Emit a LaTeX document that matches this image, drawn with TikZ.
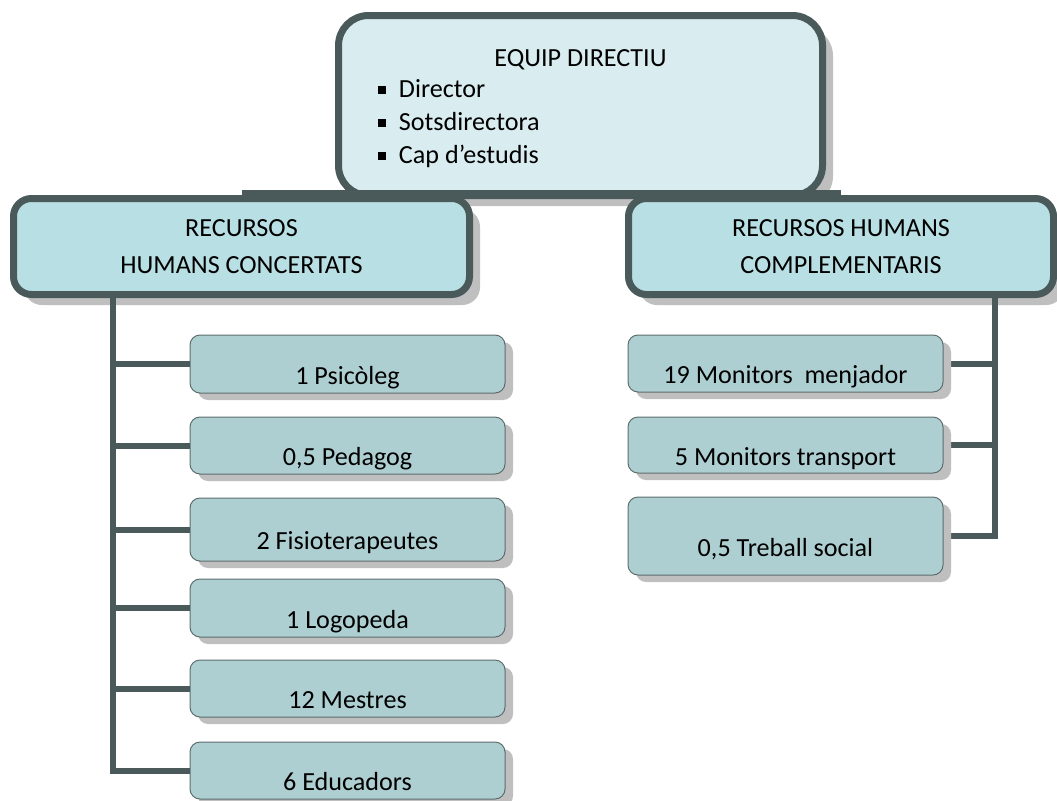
\documentclass[tikz,border=0pt]{standalone}
\usepackage{fontspec}
\setmainfont{Carlito}
\usetikzlibrary{shadows,backgrounds}
\definecolor{darkb}{HTML}{4A5A5A}
\definecolor{topfill}{HTML}{D9EDF0}
\definecolor{midfill}{HTML}{B8DFE3}
\definecolor{childfill}{HTML}{AECFD2}
\definecolor{childline}{HTML}{5E6E6E}
\definecolor{shadowg}{HTML}{BFBFBF}
\newcommand{\mybul}{\raisebox{3pt}{\rule{6pt}{6pt}}\hspace{9.75pt}}
\tikzset{
  txt/.style={font=\fontsize{19.6}{27.75}\selectfont},
  bigshadow/.style={drop shadow={shadow xshift=7.9pt, shadow yshift=-7.9pt, fill=shadowg, opacity=1}},
  smallshadow/.style={drop shadow={shadow xshift=6pt, shadow yshift=-5.25pt, fill=shadowg, opacity=1}},
  topbox/.style={txt, draw=darkb, line width=5.25pt, fill=topfill, rounded corners=22.5pt,
    inner sep=0pt, minimum width=363pt, minimum height=135pt, bigshadow},
  midbox/.style={txt, draw=darkb, line width=5.25pt, fill=midfill, rounded corners=13.5pt,
    inner sep=0pt, align=center, minimum height=72pt, bigshadow},
  childbox/.style={txt, draw=childline, line width=0.75pt, fill=childfill, rounded corners=7.5pt,
    inner sep=0pt, minimum width=236.25pt, text height=30pt, text depth=0pt, smallshadow},
  conn/.style={draw=darkb, line width=4.5pt},
}
\begin{document}
\begin{tikzpicture}[x=0.75pt, y=-0.75pt]
\useasboundingbox (0,0) rectangle (1057,800);
% top box
\node[topbox] (T) at (580.5,105.5) {\parbox[c][135pt][t]{363pt}{\fontsize{19.6}{24.75}\selectfont
  \centering\rule{0pt}{38.6pt}EQUIP DIRECTIU\par\vspace{-1.5pt}
  \raggedright\leftskip=29.6pt
  \mybul Director\par
  \mybul Sotsdirectora\par
  \mybul Cap d’estudis\par}};
% middle boxes
\node[midbox, minimum width=342pt] (L) at (241.5,246.5) {RECURSOS\\HUMANS CONCERTATS};
\node[midbox, minimum width=318.75pt] (R) at (841,246.5) {RECURSOS HUMANS\\COMPLEMENTARIS};
\draw[conn] ([yshift=1.875pt]L.north) -- ([yshift=1.875pt]R.north);
% left children
\node[childbox, minimum height=43.5pt]  (c1) at (347.5,364)   {1 Psicòleg};
\node[childbox, minimum height=42.75pt] (c2) at (347.5,445.5) {0,5 Pedagog};
\node[childbox, minimum height=47.25pt] (c3) at (347.5,529.5) {2 Fisioterapeutes};
\node[childbox, minimum height=43.5pt]  (c4) at (347.5,608)   {1 Logopeda};
\node[childbox, minimum height=42.75pt] (c5) at (347.5,688.5) {12 Mestres};
\node[childbox, minimum height=42.75pt] (c6) at (347.5,770.5) {6 Educadors};
% right children
\node[childbox, minimum height=42.75pt] (d1) at (785.5,363.5) {19 Monitors~ menjador};
\node[childbox, minimum height=42pt]    (d2) at (785.5,445)   {5 Monitors transport};
\node[childbox, minimum height=58.5pt]  (d3) at (785.5,536)   {0,5 Treball social};
% connectors
\coordinate (tl) at (113,0);
\coordinate (tr) at (995,0);
\foreach \c in {c1,c2,c3,c4,c5,c6}
  \draw[conn] (L.south -| tl) |- (\c.west);
\draw[conn, line cap=rect] (R.south -| tr) -- (d3.east -| tr);
\begin{scope}[on background layer]
  \foreach \d in {d1,d2,d3}
    \draw[conn] (\d.east -| tr) -- (\d.east);
\end{scope}
\end{tikzpicture}
\end{document}
